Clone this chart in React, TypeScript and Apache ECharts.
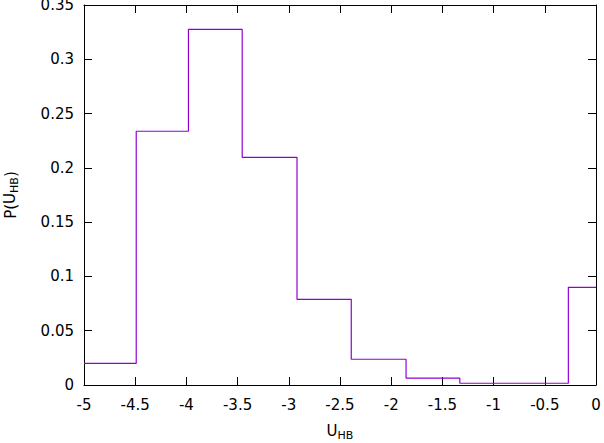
import React, { useEffect, useRef } from "react";
import * as echarts from "echarts";

const binEdges = [-5, -4.49, -3.98, -3.455, -2.92, -2.39, -1.855, -1.33, -0.8, -0.27, 0];
const binValues = [0.02, 0.2337, 0.3276, 0.2097, 0.0789, 0.0237, 0.0064, 0.0016, 0.0016, 0.09];
const xTicks = { min: -5, max: 0, interval: 0.5 };
const yTicks = { min: 0, max: 0.35, interval: 0.05 };

const FONT = "DejaVu Sans";

export default function App() {
  const ref = useRef<HTMLDivElement>(null);
  useEffect(() => {
    document.body.style.margin = "0";
    const chart = echarts.init(ref.current!, null, { renderer: "svg" });
    const data: number[][] = binValues.map((v, i) => [binEdges[i], v]);
    data.push([binEdges[binEdges.length - 1], binValues[binValues.length - 1]]);
    const fmt = (v: number) => String(+v.toFixed(2));
    const rich = {
      u: { fontSize: 15, fontFamily: FONT, color: "#000", verticalAlign: "top", lineHeight: 18 },
      s: { fontSize: 11, fontFamily: FONT, color: "#000", verticalAlign: "bottom", lineHeight: 11 },
    };
    const axisLine = { show: true, onZero: false, lineStyle: { color: "#000", width: 1 } };
    const axisTick = { show: true, inside: true, length: 8, lineStyle: { color: "#000", width: 1 } };
    chart.setOption({
      animation: false,
      grid: { left: 84, right: 8, top: 5, bottom: 58, containLabel: false, outerBoundsMode: "none" },
      xAxis: [
        {
          type: "value",
          ...xTicks,
          position: "bottom",
          axisLine,
          axisTick,
          splitLine: { show: false },
          axisLabel: { color: "#000", fontSize: 15, fontFamily: FONT, margin: 12, formatter: fmt },
          name: "{u|U}{s|HB}",
          nameLocation: "middle",
          nameGap: 38,
          nameTextStyle: { rich },
        },
        {
          type: "value",
          ...xTicks,
          position: "top",
          axisLine,
          axisTick,
          splitLine: { show: false },
          axisLabel: { show: false },
        },
      ],
      yAxis: [
        {
          type: "value",
          ...yTicks,
          position: "left",
          axisLine,
          axisTick,
          splitLine: { show: false },
          axisLabel: { color: "#000", fontSize: 15, fontFamily: FONT, margin: 10, formatter: fmt },
          name: "P({u|U}{s|HB})",
          nameLocation: "middle",
          nameGap: 64,
          nameRotate: 90,
          nameTextStyle: { fontSize: 15, fontFamily: FONT, color: "#000", rich },
        },
        {
          type: "value",
          ...yTicks,
          position: "right",
          axisLine,
          axisTick,
          splitLine: { show: false },
          axisLabel: { show: false },
        },
      ],
      series: [
        {
          type: "line",
          step: "end",
          data,
          showSymbol: false,
          symbol: "none",
          lineStyle: { color: "#9400D3", width: 1.2 },
        },
      ],
    });
    return () => chart.dispose();
  }, []);
  return <div ref={ref} style={{ width: 604, height: 443 }} />;
}
